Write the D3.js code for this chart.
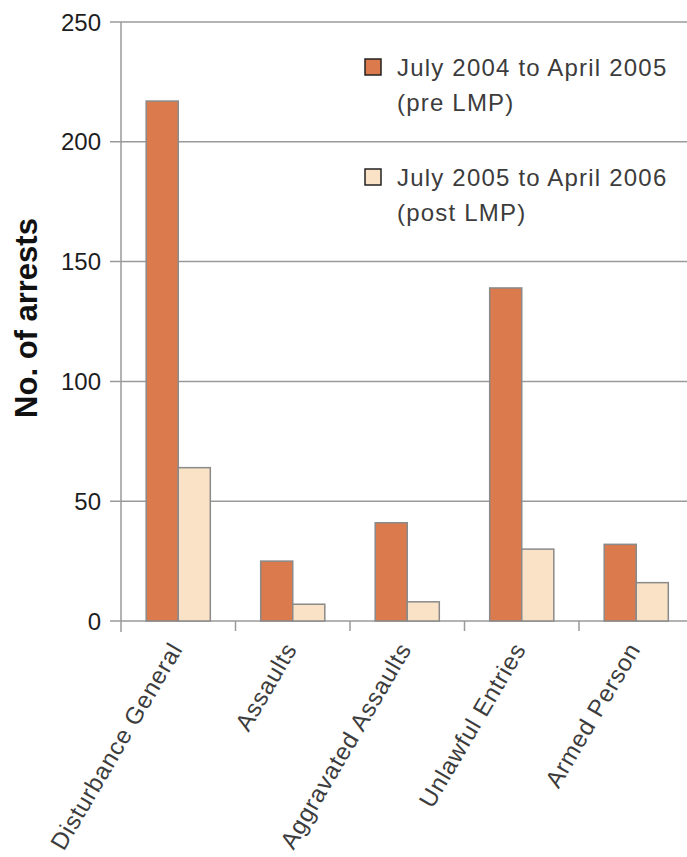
<!DOCTYPE html>
<html>
<head>
<meta charset="utf-8">
<script src="https://cdn.jsdelivr.net/npm/d3@7"></script>
<style>
  html, body { margin: 0; padding: 0; background: #fff; }
  svg { display: block; font-family: "Liberation Sans", Arial, sans-serif; }
</style>
</head>
<body>
<svg id="chart" width="687" height="857"></svg>
<script>
// Arrests by offence type, before and after the LMP
const categories = ["Disturbance General", "Assaults", "Aggravated Assaults", "Unlawful Entries", "Armed Person"];
const preLMP  = [217, 25, 41, 139, 32];
const postLMP = [64, 7, 8, 30, 16];
const seriesNames = [["July 2004 to April 2005", "(pre LMP)"], ["July 2005 to April 2006", "(post LMP)"]];
const seriesColors = ["#db7a4c", "#f9e2c6"];
const yTicks = [0, 50, 100, 150, 200, 250];

const svg = d3.select("#chart");
const W = 687;
const plotLeft = 121, plotBase = 621, plotTop = 22;

const y = d3.scaleLinear().domain([0, 250]).range([plotBase, plotTop]);
const x = d3.scaleBand().domain(categories).range([plotLeft, plotLeft + 5 * 114.5]);
const barW = x.bandwidth() * 0.28;

// horizontal gridlines with short ticks left of the axis
svg.append("g").selectAll("line").data(yTicks).join("line")
  .attr("x1", plotLeft - 11).attr("x2", W)
  .attr("y1", d => y(d)).attr("y2", d => y(d))
  .attr("stroke", "#9a9a9a").attr("stroke-width", 1.5);

// y tick labels
svg.append("g").selectAll("text").data(yTicks).join("text")
  .attr("x", plotLeft - 20).attr("y", d => y(d))
  .attr("dy", "0.36em")
  .attr("text-anchor", "end")
  .attr("font-size", 24)
  .attr("fill", "#1e1e1e")
  .text(d => d);

// vertical axis line
svg.append("line")
  .attr("x1", plotLeft).attr("x2", plotLeft)
  .attr("y1", y(250)).attr("y2", plotBase + 11)
  .attr("stroke", "#9a9a9a").attr("stroke-width", 1.5);

// category separator ticks
svg.append("g").selectAll("line").data(categories.slice(1)).join("line")
  .attr("x1", d => x(d)).attr("x2", d => x(d))
  .attr("y1", plotBase).attr("y2", plotBase + 10)
  .attr("stroke", "#9a9a9a").attr("stroke-width", 1.5);

// bars
const groups = svg.append("g").selectAll("g").data(categories).join("g");
[preLMP, postLMP].forEach((vals, si) => {
  groups.append("rect")
    .attr("x", d => x(d) + x.bandwidth() / 2 - barW + si * barW)
    .attr("y", (d, i) => y(vals[i]))
    .attr("width", barW)
    .attr("height", (d, i) => plotBase - y(vals[i]))
    .attr("fill", seriesColors[si])
    .attr("stroke", "#8a8a8a")
    .attr("stroke-width", 1.5);
});

// category labels, rotated
svg.append("g").selectAll("text").data(categories).join("text")
  .attr("transform", d => `translate(${x(d) + x.bandwidth() / 2 + 5},${plotBase + 28}) rotate(-59.5)`)
  .attr("text-anchor", "end")
  .attr("font-size", 24)
  .attr("letter-spacing", 0.8)
  .attr("fill", "#3c3c3c")
  .text(d => d);

// y-axis title
svg.append("text")
  .attr("transform", "translate(37,318) rotate(-90)")
  .attr("text-anchor", "middle")
  .attr("font-size", 31)
  .attr("font-weight", "bold")
  .attr("fill", "#111")
  .text("No. of arrests");

// legend
const legend = svg.append("g").selectAll("g").data(seriesNames).join("g")
  .attr("transform", (d, i) => `translate(365,${59 + i * 110})`);
legend.append("rect")
  .attr("width", 16).attr("height", 16)
  .attr("fill", (d, i) => seriesColors[i])
  .attr("stroke", "#222").attr("stroke-width", 1.5);
legend.append("text")
  .attr("x", 32).attr("y", 17)
  .attr("font-size", 24)
  .attr("letter-spacing", 1.2)
  .attr("fill", "#3c3c3c")
  .selectAll("tspan").data(d => d).join("tspan")
  .attr("x", 32).attr("dy", (d, i) => i === 0 ? 0 : 35)
  .text(d => d);
</script>
</body>
</html>
